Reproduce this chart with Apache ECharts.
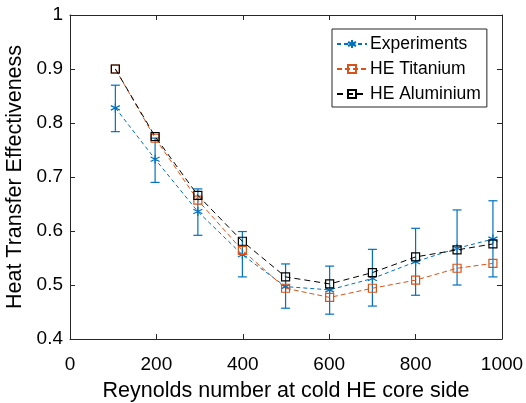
<!DOCTYPE html>
<html>
<head>
<meta charset="utf-8">
<script src="https://cdn.jsdelivr.net/npm/echarts@6/dist/echarts.min.js"></script>
<style>
  html, body { margin: 0; padding: 0; background: #fff; }
  #chart { width: 526px; height: 403px; }
</style>
</head>
<body>
<div id="chart"></div>
<script>
// Reynolds numbers
const reX = [105, 197, 296, 399, 499, 601, 700, 800, 896, 979]
// measured effectiveness with error bars
const expY = [0.828, 0.733, 0.636, 0.556, 0.497, 0.491, 0.512, 0.543, 0.568, 0.585]
const expLo = [0.784, 0.690, 0.592, 0.515, 0.457, 0.446, 0.461, 0.481, 0.500, 0.515]
const expHi = [0.870, 0.772, 0.678, 0.599, 0.539, 0.535, 0.566, 0.605, 0.639, 0.656]
// model results
const titY = [0.900, 0.772, 0.657, 0.564, 0.494, 0.477, 0.494, 0.509, 0.531, 0.540]
const aluY = [0.900, 0.775, 0.666, 0.581, 0.515, 0.502, 0.523, 0.552, 0.565, 0.576]

const xTicks = [0, 200, 400, 600, 800, 1000]
const yTicks = [0.4, 0.5, 0.6, 0.7, 0.8, 0.9, 1]

const BLUE = '#0072BD'
const ORANGE = '#D95319'
const AXIS = '#262626'
const FONT = 'Liberation Sans'

const star = 'path://M0,-5L0,5M-4.3,-2.5L4.3,2.5M-4.3,2.5L4.3,-2.5'

let chart = echarts.init(document.getElementById('chart'), null, { renderer: 'canvas' })

function pairs (ys) {
  return ys.map((y, i) => [reX[i], y])
}

let axisCommon = {
  axisLine: { show: true, onZero: false, lineStyle: { color: AXIS, width: 1 } },
  axisTick: { show: true, inside: true, length: 5, lineStyle: { color: AXIS } },
  splitLine: { show: false }
}

let option = {
  animation: false,
  backgroundColor: '#fff',
  textStyle: { fontFamily: FONT },
  grid: { left: 70, right: 24, top: 15, bottom: 64, containLabel: false, outerBoundsMode: 'none' },
  legend: {
    orient: 'vertical',
    left: 332,
    top: 29,
    width: 156,
    padding: [6, 6, 4, 4],
    itemGap: 7,
    itemWidth: 30,
    itemHeight: 10,
    backgroundColor: '#fff',
    borderColor: AXIS,
    borderWidth: 1,
    borderRadius: 0,
    textStyle: { fontSize: 17.5, color: '#000', fontFamily: FONT, padding: [0, 0, 0, -2] },
    data: ['Experiments', 'HE Titanium', 'HE Aluminium']
  },
  xAxis: [
    Object.assign({
      type: 'value', min: 0, max: 1000, interval: 200,
      name: 'Reynolds number at cold HE core side',
      nameLocation: 'middle', nameGap: 41,
      nameTextStyle: { fontSize: 21.5, color: '#000' },
      axisLabel: { fontSize: 19, color: '#000', margin: 16,
        customValues: xTicks, formatter: v => String(v) },
      position: 'bottom'
    }, axisCommon),
    Object.assign({
      type: 'value', min: 0, max: 1000, interval: 200,
      position: 'top', axisLabel: { show: false }
    }, axisCommon)
  ],
  yAxis: [
    Object.assign({
      type: 'value', min: 0.4, max: 1, interval: 0.1,
      name: 'Heat Transfer Effectiveness',
      nameLocation: 'middle', nameGap: 41, nameRotate: 90,
      nameTextStyle: { fontSize: 21.5, color: '#000' },
      axisLabel: { fontSize: 19, color: '#000', margin: 7,
        customValues: yTicks, formatter: v => String(+v.toFixed(1)) },
      position: 'left'
    }, axisCommon),
    Object.assign({
      type: 'value', min: 0.4, max: 1, interval: 0.1,
      position: 'right', axisLabel: { show: false }
    }, axisCommon)
  ],
  series: [
    {
      name: 'Experiments',
      type: 'line',
      z: 4,
      data: pairs(expY),
      symbol: star,
      symbolSize: 9,
      showAllSymbol: true,
      itemStyle: { color: BLUE, borderColor: BLUE, borderWidth: 1.2 },
      lineStyle: { color: BLUE, width: 1, type: [4, 3] }
    },
    {
      name: 'Experiments error',
      type: 'custom',
      z: 3,
      data: reX.map((x, i) => [x, expLo[i], expHi[i]]),
      renderItem (params, api) {
        let lo = api.coord([api.value(0), api.value(1)])
        let hi = api.coord([api.value(0), api.value(2)])
        let half = 4.5
        let style = { stroke: BLUE, lineWidth: 1.2 }
        return {
          type: 'group',
          children: [
            { type: 'line', shape: { x1: lo[0], y1: lo[1], x2: hi[0], y2: hi[1] }, style },
            { type: 'line', shape: { x1: lo[0] - half, y1: lo[1], x2: lo[0] + half, y2: lo[1] }, style },
            { type: 'line', shape: { x1: hi[0] - half, y1: hi[1], x2: hi[0] + half, y2: hi[1] }, style }
          ]
        }
      }
    },
    {
      name: 'HE Titanium',
      type: 'line',
      z: 5,
      data: pairs(titY),
      symbol: 'rect',
      symbolSize: 8,
      showAllSymbol: true,
      itemStyle: { color: 'rgba(255,255,255,0)', borderColor: ORANGE, borderWidth: 1.2 },
      lineStyle: { color: ORANGE, width: 1, type: [5, 3] }
    },
    {
      name: 'HE Aluminium',
      type: 'line',
      z: 6,
      data: pairs(aluY),
      symbol: 'rect',
      symbolSize: 8,
      showAllSymbol: true,
      itemStyle: { color: 'rgba(255,255,255,0)', borderColor: '#000', borderWidth: 1.2 },
      lineStyle: { color: '#000', width: 1, type: [6, 4] }
    }
  ]
}

chart.setOption(option)
</script>
</body>
</html>
